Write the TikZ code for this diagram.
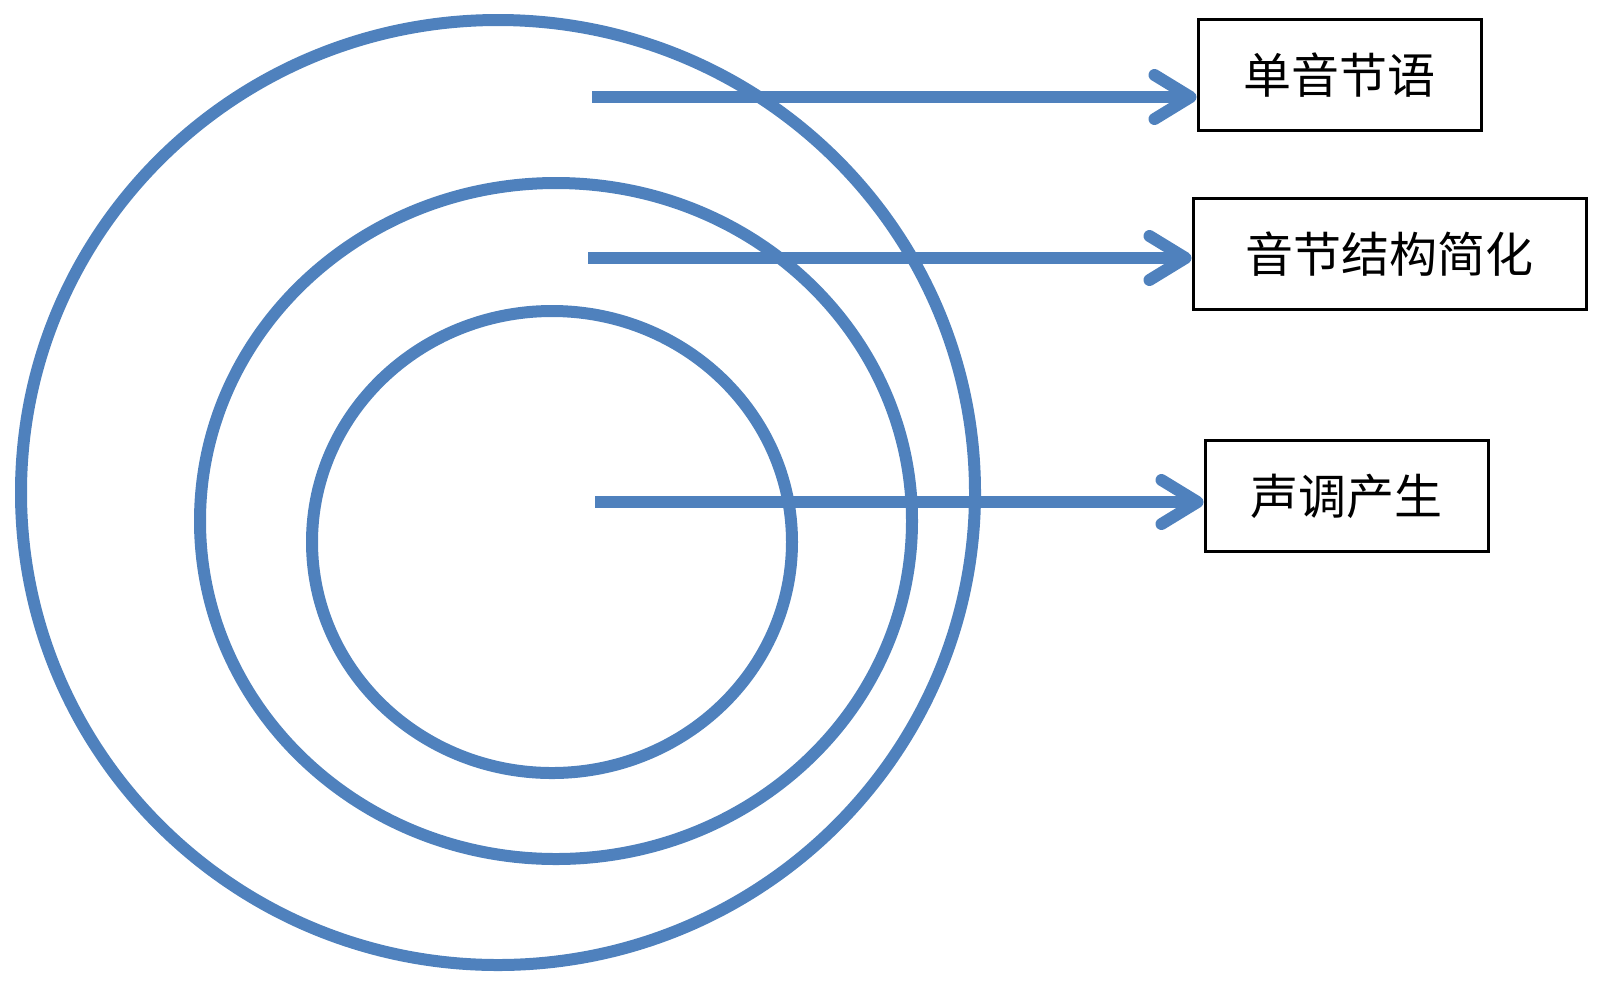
\documentclass[tikz,border=0pt]{standalone}
\usepackage{fontspec}
\newfontfamily\cjk{Noto Sans CJK SC}
\usepackage{tikz}
\usetikzlibrary{arrows.meta, positioning}
\definecolor{ringblue}{RGB}{79,129,189}

\begin{document}
\begin{tikzpicture}[x=0.5pt, y=-0.5pt,
		ring/.style={line width=6pt, ringblue},
		arr/.style={line width=6pt, ringblue, -{Straight Barb[length=18pt, width=22pt, round]}},
		label/.style={draw, line width=1.5pt, minimum height=55.5pt, inner sep=0pt, font=\cjk\fontsize{24pt}{28pt}\selectfont}]
	\useasboundingbox (0,0) rectangle (1600,982);

	% Ringe
	\draw[ring] (498,492.5) ellipse [x radius=477, y radius=472.5];
	\draw[ring] (556,521) ellipse [x radius=356, y radius=338];
	\draw[ring] (552,542) ellipse [x radius=240, y radius=231];

	% Kaesten
	\node[label, minimum width=141.5pt] (b1) at (1339.5,75) {单音节语};
	\node[label, minimum width=196.5pt] (b2) at (1389.5,254) {音节结构简化};
	\node[label, minimum width=141.5pt] (b3) at (1346.5,496) {声调产生};

	% Pfeile
	\coordinate (s1) at (592,97);
	\coordinate (s2) at (588,258);
	\coordinate (s3) at (595,502);
	\draw[arr] (s1) -- (s1 -| b1.west);
	\draw[arr] (s2) -- (s2 -| b2.west);
	\draw[arr] (s3) -- (s3 -| b3.west);
\end{tikzpicture}
\end{document}
